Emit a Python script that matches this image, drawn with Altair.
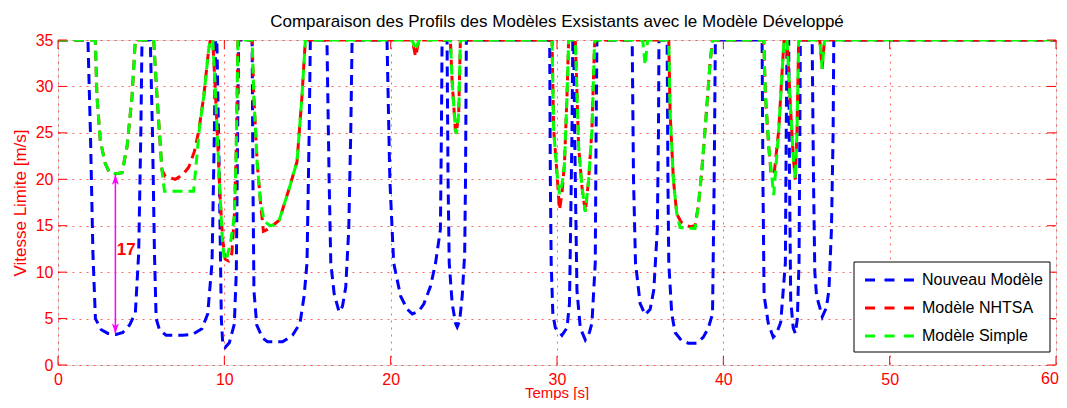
import altair as alt
import pandas as pd

chart_title = "Comparaison des Profils des Modèles Exsistants avec le Modèle Développé"
x_title = "Temps [s]"
y_title = "Vitesse Limite [m/s]"
series_names = ["Nouveau Modèle", "Modèle NHTSA", "Modèle Simple"]
series_colors = ["#0000ff", "#ff0000", "#00ff00"]

x_ticks = [0, 10, 20, 30, 40, 50, 60]
y_ticks = [0, 5, 10, 15, 20, 25, 30, 35]

# Nouveau Modèle (blue)
blue_t = [0, 1.8, 1.95, 2.1, 2.25, 2.6, 3.0, 3.5, 3.9, 4.3, 4.65, 4.85, 4.98, 5.05,
          5.55, 5.68, 5.8, 5.9, 6.1, 6.5, 7.5, 8.1, 8.65, 9.0, 9.26, 9.4, 9.48,
          9.55, 9.7, 9.82, 9.9, 10.05, 10.3, 10.6, 10.72, 10.8, 10.86,
          11.67, 11.72, 11.78, 11.95, 12.3, 12.6, 13.5, 14.1, 14.55, 14.8, 14.97, 15.1, 15.17,
          16.17, 16.3, 16.4, 16.6, 16.9, 17.1, 17.3, 17.48, 17.6, 17.68,
          19.78, 19.95, 20.18, 20.6, 21.0, 21.3, 21.7, 22.0, 22.4, 22.7, 22.99, 23.05, 23.09,
          23.39, 23.45, 23.52, 23.7, 23.9, 24.0, 24.15, 24.3, 24.45, 24.5, 24.55,
          29.56, 29.6, 29.65, 29.75, 29.9, 30.3, 30.6, 30.75, 30.82, 30.9, 30.95,
          31.0, 31.1, 31.2, 31.4, 31.7, 31.95, 32.1, 32.3, 32.35, 32.4,
          34.52, 34.6, 34.72, 35.0, 35.3, 35.6, 35.82, 36.03, 36.1, 36.13,
          36.62, 36.67, 36.72, 36.9, 37.1, 37.5, 37.9, 38.4, 38.8, 39.1, 39.35, 39.45, 39.52,
          42.33, 42.38, 42.45, 42.7, 43.0, 43.2, 43.45, 43.73, 43.78, 43.83,
          43.93, 43.98, 44.05, 44.2, 44.33, 44.45, 44.55, 44.6, 44.63,
          45.34, 45.42, 45.5, 45.6, 45.95, 46.2, 46.35, 46.5, 46.6, 46.64, 60]
blue_v = [35, 35, 25, 12, 5, 3.8, 3.4, 3.3, 3.5, 4.3, 5.6, 12, 25, 35,
          35, 25, 12, 5, 3.8, 3.2, 3.2, 3.3, 3.9, 5.5, 11, 25, 35,
          35, 20, 5, 2.4, 1.9, 2.4, 4.4, 10, 25, 35,
          35, 20, 8, 4.3, 2.9, 2.5, 2.5, 3.2, 4.5, 7.5, 11, 25, 35,
          35, 20, 11, 7.7, 5.7, 6.3, 8.4, 14.6, 25, 35,
          35, 20, 11, 7.4, 6.0, 5.5, 5.8, 6.6, 8.5, 11, 14.6, 25, 35,
          35, 20, 11, 6.6, 4.5, 4.1, 4.8, 7.4, 12, 20, 35,
          35, 20, 11, 5.5, 4.0, 3.2, 4.0, 6.6, 15, 25, 35,
          35, 20, 8, 4.0, 2.7, 3.5, 4.5, 11, 25, 35,
          35, 20, 11, 6.6, 5.4, 6.0, 8.1, 14.6, 25, 35,
          35, 20, 11, 5.5, 3.5, 2.6, 2.35, 2.35, 3.0, 4.0, 5.5, 20, 35,
          35, 20, 7.5, 4.5, 3.0, 3.4, 4.6, 11, 25, 35,
          35, 20, 7, 4.0, 3.4, 5, 11, 25, 35,
          35, 20, 10, 7.5, 5.2, 6.2, 8.1, 14.6, 25, 35, 35]

# Modèle NHTSA (red)
red_t = [0, 2.24, 2.34, 2.54, 2.84, 3.1, 3.5, 3.85, 4.15, 4.45, 4.65,
         5.75, 5.95, 6.25, 6.45, 7.05, 7.5, 7.86, 8.2, 8.46, 8.76, 9.06, 9.16,
         9.3, 9.45, 9.6, 9.75, 9.9, 10.05, 10.25, 10.45, 10.6, 10.7, 10.76, 10.82,
         11.67, 11.77, 11.97, 12.17, 12.35, 12.6, 12.9, 13.3, 13.88, 14.37, 14.67, 14.87,
         21.3, 21.5, 21.7,
         23.59, 23.69, 23.89, 23.95, 24.09, 24.19,
         29.7, 29.8, 30.0, 30.15, 30.3, 30.45, 30.6, 30.7,
         31.1, 31.3, 31.5, 31.7, 31.9, 32.1, 32.25, 32.3,
         36.72, 36.8, 37.0, 37.2, 37.45, 37.7, 38.0, 38.3, 38.5, 38.7, 38.9, 39.2, 39.35,
         42.43, 42.53, 42.73, 42.87, 43.05, 43.33, 43.53, 43.65,
         43.83, 44.0, 44.2, 44.33, 44.43, 44.53,
         45.8, 45.94, 46.08, 60]
red_v = [35, 35, 29, 24.2, 21.7, 20.7, 20.6, 20.7, 23.5, 28.9, 35,
         35, 29, 21.0, 20.3, 20.0, 20.5, 21.3, 23, 25.2, 28.9, 34, 35,
         35, 30, 24, 18, 13.5, 11.4, 11.2, 12, 16, 22, 28, 35,
         35, 29, 21.9, 17.6, 14.4, 14.6, 15.0, 15.6, 18.9, 21.9, 29, 35,
         35, 33.2, 35,
         35, 30.7, 25.3, 24.9, 27.1, 35,
         35, 25.3, 20.6, 16.7, 18.5, 21.7, 29, 35,
         35, 23.5, 19.2, 16.5, 19.9, 25.3, 34.3, 35,
         35, 27.1, 19.9, 16.3, 15.4, 15.1, 14.9, 15.0, 17.2, 20.8, 25.3, 32.5, 35,
         35, 29, 23.5, 20.6, 20.5, 25.3, 31.5, 35,
         35, 29, 22.4, 20.0, 25.3, 35,
         35, 31.9, 35, 35]

# Modèle Simple (green)
green_t = [0, 2.24, 2.34, 2.54, 2.84, 3.1, 3.5, 3.85, 4.15, 4.45, 4.65,
           5.75, 5.95, 6.25, 6.4, 8.15, 8.35, 8.5, 8.76, 9.06, 9.16,
           9.3, 9.45, 9.6, 9.75, 9.88, 10.0, 10.15, 10.4, 10.6, 10.7, 10.76, 10.82,
           11.67, 11.77, 11.97, 12.17, 12.4, 12.75, 13.0, 13.3, 13.88, 14.37, 14.67, 14.87,
           21.3, 21.5, 21.7,
           23.59, 23.69, 23.89, 23.95, 24.09, 24.19,
           29.7, 29.8, 30.0, 30.15, 30.3, 30.45, 30.6, 30.7,
           31.1, 31.3, 31.5, 31.7, 31.9, 32.1, 32.25, 32.3,
           35.15, 35.3, 35.45,
           36.72, 36.8, 37.0, 37.2, 37.4, 38.3, 38.5, 38.7, 38.9, 39.2, 39.35,
           42.43, 42.53, 42.73, 43.03, 43.33, 43.53, 43.65,
           43.83, 44.0, 44.2, 44.33, 44.43, 44.53,
           45.8, 45.94, 46.08, 60]
green_v = [35, 35, 29, 24.2, 21.7, 20.7, 20.6, 20.7, 23.5, 28.9, 35,
           35, 29, 21.0, 18.7, 18.7, 22.5, 25.5, 28.9, 34, 35,
           35, 30, 24, 18, 13.5, 11.3, 11.5, 13.5, 16, 22, 28, 35,
           35, 29, 21.9, 17.6, 15.5, 15.0, 15.1, 15.6, 18.9, 21.9, 29, 35,
           35, 33.9, 35,
           35, 30.7, 25.3, 24.9, 27.1, 35,
           35, 25.3, 20.6, 18.4, 19.5, 21.7, 29, 35,
           35, 23.5, 19.2, 16.5, 19.9, 25.3, 34.3, 35,
           35, 32.3, 35,
           35, 27.1, 19.9, 16.3, 14.8, 14.7, 17.2, 20.8, 25.3, 32.5, 35,
           35, 29, 23.5, 18.3, 25.3, 31.5, 35,
           35, 29, 22.4, 20.0, 25.3, 35,
           35, 31.9, 35, 35]

# annotation (double arrow + label)
arrow_x = 3.45
arrow_top = 20.5
arrow_bottom = 3.4
arrow_label = "17"
label_x = 4.1
label_y = 12.4

W, H = 998, 325
FONT = "Liberation Sans"
DASH = [10, 6]
RED = "#ff0000"
LABEL_PAD = 6

rows = []
for name, ts, vs in zip(series_names, [blue_t, red_t, green_t], [blue_v, red_v, green_v]):
    for i, (t, v) in enumerate(zip(ts, vs)):
        rows.append({"series": name, "t": t, "v": v, "idx": i})
df = pd.DataFrame(rows)

xs = alt.Scale(domain=[0, 60], nice=False)
ys = alt.Scale(domain=[0, 35], nice=False)
last_x = x_ticks[-1]

x_axis = alt.Axis(values=x_ticks, format="d", grid=True, gridColor=RED,
                  gridDash=[2, 5], gridOpacity=0.6, gridWidth=1, ticks=False, tickSize=0,
                  domain=False, labelColor=RED, labelFont=FONT, labelFontSize=16,
                  labelPadding=LABEL_PAD, labelFlush=False, title=None,
                  labelExpr=f"datum.value == {last_x} ? '' : datum.label")
y_axis = alt.Axis(values=y_ticks, format="d", grid=True, gridColor=RED,
                  gridDash=[2, 5], gridOpacity=0.6, gridWidth=1, ticks=False, tickSize=0,
                  domain=False, labelColor=RED, labelFont=FONT, labelFontSize=16,
                  labelPadding=5, title=y_title, titleColor=RED, titleFont=FONT,
                  titleFontSize=17, titleFontWeight="normal", titleX=-33, titleY=H / 2,
                  titleAngle=270, titleBaseline="alphabetic", titleAlign="center")


def X(field="t"):
    return alt.X(f"{field}:Q", scale=xs, axis=x_axis)


def Y(field="v"):
    return alt.Y(f"{field}:Q", scale=ys, axis=y_axis)


layers = []
for name, color in zip(series_names, series_colors):
    layers.append(
        alt.Chart(df).transform_filter(alt.datum.series == name)
        .mark_line(color=color, strokeWidth=3, strokeDash=DASH, clip=True)
        .encode(x=X(), y=Y(), order="idx:Q")
    )

# inside ticks (MATLAB style) on all four sides
xt = pd.DataFrame({"t": x_ticks})
yt = pd.DataFrame({"v": y_ticks})
tick_len = 9
layers.append(alt.Chart(xt).mark_rule(color=RED, strokeWidth=1).encode(
    x=X(), y=alt.value(H), y2=alt.value(H - tick_len)))
layers.append(alt.Chart(xt).mark_rule(color=RED, strokeWidth=1).encode(
    x=X(), y=alt.value(0), y2=alt.value(tick_len)))
layers.append(alt.Chart(yt).mark_rule(color=RED, strokeWidth=1).encode(
    y=Y(), x=alt.value(0), x2=alt.value(tick_len)))
layers.append(alt.Chart(yt).mark_rule(color=RED, strokeWidth=1).encode(
    y=Y(), x=alt.value(W), x2=alt.value(W - tick_len)))

# last x tick label, nudged so it stays inside the page
last_lab = pd.DataFrame({"t": [last_x], "txt": [str(last_x)]})
layers.append(alt.Chart(last_lab).mark_text(color=RED, font=FONT, fontSize=16,
                                            align="center", baseline="top", dx=-6).encode(
    x=X(), y=alt.value(H + LABEL_PAD), text="txt:N"))

# chart title and x axis title
titles = pd.DataFrame({"txt": [chart_title]})
layers.append(alt.Chart(titles).mark_text(color="black", font=FONT, fontSize=17,
                                          align="center", baseline="alphabetic").encode(
    x=alt.value(W / 2), y=alt.value(-13), text="txt:N"))
xt_df = pd.DataFrame({"txt": [x_title]})
layers.append(alt.Chart(xt_df).mark_text(color=RED, font=FONT, fontSize=15,
                                         align="center", baseline="alphabetic").encode(
    x=alt.value(W / 2), y=alt.value(H + 33), text="txt:N"))

# annotation
ann = pd.DataFrame({"t": [arrow_x], "v": [arrow_bottom], "v2": [arrow_top]})
layers.append(alt.Chart(ann).mark_rule(color="#ff00ff", strokeWidth=1.5).encode(
    x=X(), y=Y(), y2="v2:Q"))
up_shape = "M0,0L-0.35,1L0,0.75L0.35,1Z"
down_shape = "M0,0L-0.35,-1L0,-0.75L0.35,-1Z"
layers.append(alt.Chart(ann).mark_point(shape=up_shape, filled=True, color="#ff00ff",
                                        size=400, opacity=1).encode(
    x=X(), y=Y("v2")))
layers.append(alt.Chart(ann).mark_point(shape=down_shape, filled=True, color="#ff00ff",
                                        size=400, opacity=1).encode(
    x=X(), y=Y()))
lab = pd.DataFrame({"t": [label_x], "v": [label_y], "txt": [arrow_label]})
layers.append(alt.Chart(lab).mark_text(color=RED, font=FONT, fontSize=17,
                                       fontWeight="bold", align="center",
                                       baseline="middle").encode(
    x=X(), y=Y(), text="txt:N"))

# legend box (drawn by hand, MATLAB style)
one = pd.DataFrame({"k": [0]})
layers.append(alt.Chart(one).mark_rect(fill="white", stroke="black", strokeWidth=1).encode(
    x=alt.value(796), x2=alt.value(992), y=alt.value(222), y2=alt.value(312)))
row_y = [240, 268, 296]
for name, color, yy in zip(series_names, series_colors, row_y):
    layers.append(alt.Chart(one).mark_rule(color=color, strokeWidth=3,
                                           strokeDash=[10, 9.5]).encode(
        x=alt.value(807), x2=alt.value(856), y=alt.value(yy)))
    layers.append(alt.Chart(pd.DataFrame({"name": [name]})).mark_text(
        align="left", baseline="middle", font=FONT, fontSize=16, color="black").encode(
        x=alt.value(864), y=alt.value(yy), text="name:N"))

chart = alt.layer(*layers).properties(
    width=W, height=H,
    autosize=alt.AutoSizeParams(type="none"),
    padding={"left": 50, "top": 32, "right": 3, "bottom": 35},
).configure_view(stroke=RED, strokeWidth=1.5).configure(background="white")

chart.save("out.html", embed_options={"renderer": "svg", "actions": False})
